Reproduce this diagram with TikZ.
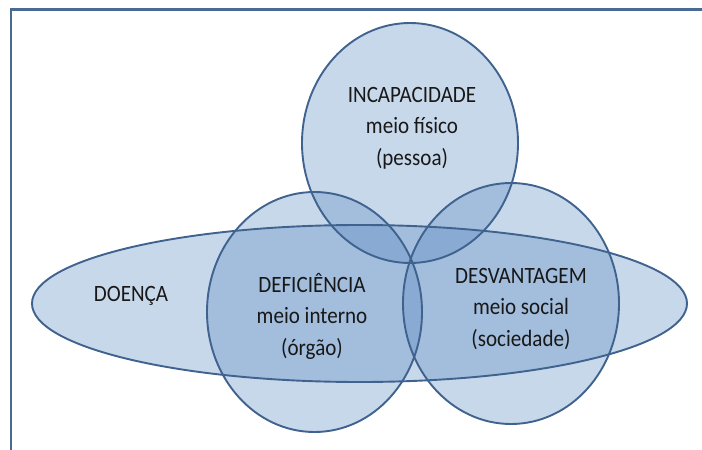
\documentclass[tikz,border=0pt]{standalone}
\usepackage{fontspec}
\setmainfont{Carlito}
\newfontfamily\labfont[FakeStretch=0.9]{Carlito}
\definecolor{edgeblue}{HTML}{3F628E}
\definecolor{fillblue}{HTML}{4F81BD}
\definecolor{framecol}{HTML}{4A6A96}
\definecolor{txt}{HTML}{181818}
\begin{document}
\begin{tikzpicture}[x=1pt,y=-1pt,
  region/.style={fill=fillblue,fill opacity=0.31},
  rim/.style={draw=edgeblue,line width=1.9pt},
  label/.style={align=center,text=txt,font=\labfont\fontsize{23.4}{31.5}\selectfont,inner sep=0pt}]
\useasboundingbox (0,0) rectangle (702,450);
% frame
\draw[framecol,line width=2.4pt] (11,450) -- (11,9.5) -- (702,9.5);
% fills
\fill[region] (359.5,303.5) ellipse [x radius=327.5, y radius=78.5];
\fill[region] (410,143) ellipse [x radius=108, y radius=120];
\fill[region] (314.5,312) ellipse [x radius=107.5, y radius=120];
\fill[region] (511,303.5) ellipse [x radius=108, y radius=120.5];
% outlines
\draw[rim] (359.5,303.5) ellipse [x radius=327.5, y radius=78.5];
\draw[rim] (410,143) ellipse [x radius=108, y radius=120];
\draw[rim] (314.5,312) ellipse [x radius=107.5, y radius=120];
\draw[rim] (511,303.5) ellipse [x radius=108, y radius=120.5];
% labels
\node[label] (inc) at (412,128) {INCAPACIDADE\\meio físico\\(pessoa)};
\node[label] (doe) at (131,296) {DOENÇA};
\node[label] (def) at (312,316) {DEFICIÊNCIA\\meio interno\\(órgão)};
\node[label] (des) at (521,309) {DESVANTAGEM\\meio social\\(sociedade)};
\end{tikzpicture}
\end{document}
